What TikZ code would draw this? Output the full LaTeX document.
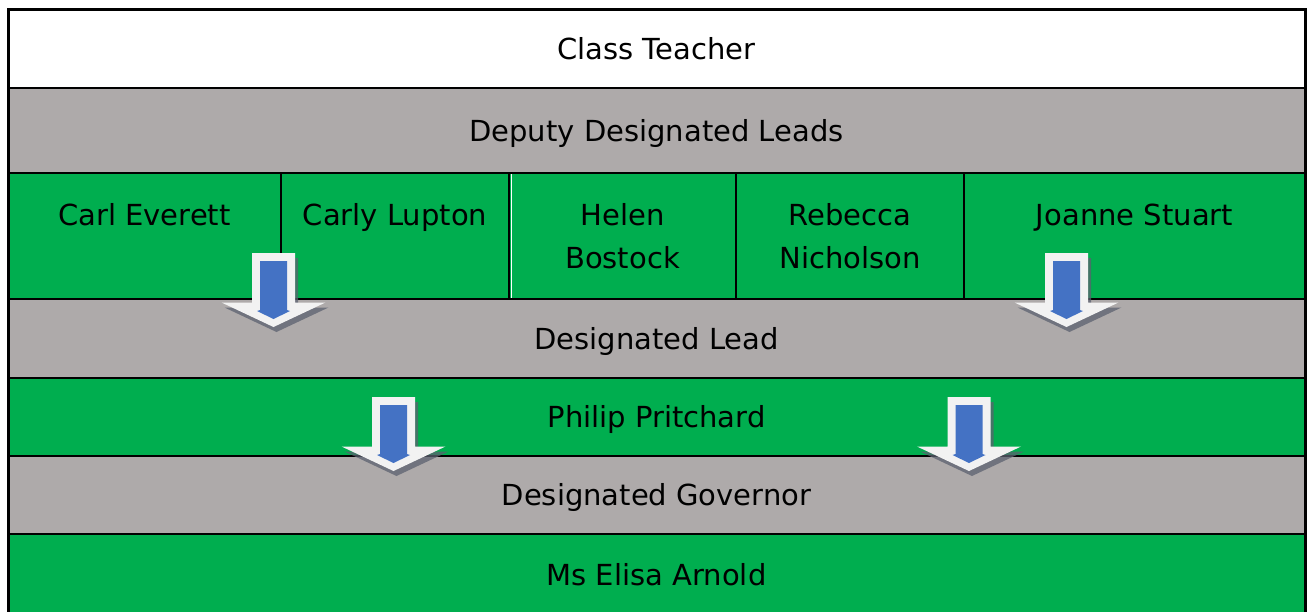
\documentclass[tikz,border=0pt]{standalone}
\usepackage{fontspec}
\setmainfont{DejaVu Sans}
\usetikzlibrary{positioning}
\definecolor{cellgreen}{HTML}{00AE4F}
\definecolor{cellgray}{HTML}{AEAAAA}
\definecolor{arrowblue}{HTML}{4472C4}
\definecolor{arrowwhite}{HTML}{F2F2F2}
\definecolor{arrowshade}{HTML}{5C6170}
\tikzstyle{cell} = [draw=black, line width=2pt, inner sep=0pt, outer sep=0pt, align=center, anchor=north west, font=\fontsize{29}{43}\selectfont]
\tikzstyle{band} = [cell, minimum width=1297pt, text height=21pt, text depth=0pt]
\tikzstyle{namecell} = [cell, fill=cellgreen, minimum height=126pt]
\tikzset{
  downarrow/.pic={
    \fill[arrowshade, opacity=0.75, shift={(3,5)}] (-21.5,0) -- (21.5,0) -- (21.5,49.5) -- (52,49.5) -- (0,74) -- (-52,49.5) -- (-21.5,49.5) -- cycle;
    \fill[arrowwhite] (-21.5,0) -- (21.5,0) -- (21.5,49.5) -- (52,49.5) -- (0,74) -- (-52,49.5) -- (-21.5,49.5) -- cycle;
    \fill[arrowblue] (-13.5,8) -- (13.5,8) -- (13.5,57) -- (16.5,58) -- (0,66) -- (-16.5,58) -- (-13.5,57) -- cycle;
  }
}

\begin{document}
\begin{tikzpicture}[x=1pt,y=-1pt]
    \useasboundingbox (0,0) rectangle (1309,611);
    \begin{scope}
        \clip (0,0) rectangle (1309,611);
        \node[band, fill=white, minimum height=79pt] (teacher) at (8,9) {Class Teacher};
        \node[band, fill=cellgray, minimum height=85pt] (deputy) at (8,88) {Deputy Designated Leads};
        % the five deputies
        \node[namecell, minimum width=273pt] (carl) at (8,173) {Carl Everett\\\phantom{X}};
        \node[namecell, minimum width=228pt] (carly) at (281,173) {Carly Lupton\\\phantom{X}};
        \node[namecell, minimum width=227pt] (helen) at (509,173) {Helen\\Bostock};
        \node[namecell, minimum width=228pt] (rebecca) at (736,173) {Rebecca\\Nicholson};
        \node[namecell, minimum width=341pt] (joanne) at (964,173) {Joanne Stuart\\\phantom{X}};
        \node[band, fill=cellgray, minimum height=79pt] (lead) at (8,299) {Designated Lead};
        \node[band, fill=cellgreen, minimum height=78pt] (philip) at (8,378) {Philip Pritchard};
        \node[band, fill=cellgray, minimum height=78pt] (governor) at (8,456) {Designated Governor};
        \node[band, fill=cellgreen, minimum height=82pt] (arnold) at (8,534) {Ms Elisa Arnold};
        \draw[white, line width=1pt] (carly.north east) ++(2,1) -- ++(0,124);
        \draw[line width=3pt] (teacher.north west) rectangle (1305,640);
    \end{scope}
    % block arrows
    \pic at (273.5,253) {downarrow};
    \pic at (1066.5,253) {downarrow};
    \pic at (393.5,397) {downarrow};
    \pic at (969,397) {downarrow};
\end{tikzpicture}
\end{document}
